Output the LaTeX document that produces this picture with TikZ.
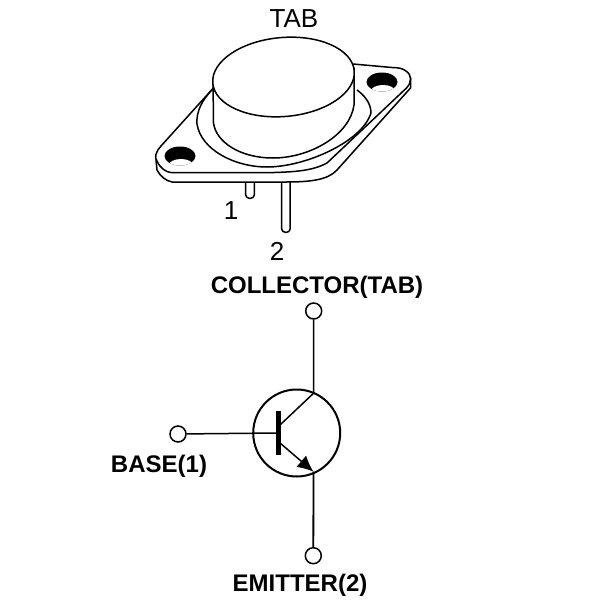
\documentclass[tikz,border=0pt]{standalone}
\usepackage{fontspec}
\setmainfont{Liberation Sans}
\usetikzlibrary{arrows.meta}
\tikzset{
	case/.style={line width=1.5pt, line join=round, fill=white},
	terminal/.style={circle, draw, line width=1.5pt, fill=white, minimum size=16pt, inner sep=0pt},
	wire/.style={line width=1.5pt},
	pinlabel/.style={font=\fontsize{26}{30}\selectfont, inner sep=0pt},
	termlabel/.style={font=\fontsize{24}{28}\selectfont\bfseries, inner sep=0pt}
}

\begin{document}
\begin{tikzpicture}[x=1pt, y=-1pt]
	\useasboundingbox[fill=white] (0,0) rectangle (600,600);

	% pins
	\draw[case] (245.7,180) -- (245.7,195) arc[start angle=180, end angle=360, x radius=4.3, y radius=-3.5] -- (254.3,180);
	\draw[case] (281.7,180) -- (281.7,229) arc[start angle=180, end angle=360, x radius=4.2, y radius=-3.5] -- (290,180);

	% flange
	\draw[case] (156,160) -- (157,170) .. controls (160,176) and (166,181) .. (172,182) -- (286,182)
		.. controls (310,182) and (328,180) .. (337,170) -- (410.5,88) -- (410.5,78) -- (400,70) -- (300,70) -- cycle;
	\draw[case] (212.5,89) -- (161,146) .. controls (156,151) and (154,158) .. (157,161)
		.. controls (160,168) and (166,172.5) .. (172,172.7) -- (267,172.7)
		.. controls (295,172) and (312,171) .. (327,163) -- (406.5,88)
		.. controls (412,82) and (412,75) .. (406,71) .. controls (402,68) and (398,67.7) .. (392,67.5) -- (353,64) -- cycle;
	\draw[case] (212,90) .. controls (202,100) and (196,112) .. (197,124)
		.. controls (201,150) and (235,167) .. (267,167)
		.. controls (305,167) and (362,142) .. (371,113)
		.. controls (371,103) and (364,95) .. (357,90);

	% holes
	\foreach \hx/\hy in {180/156, 382/82} {
		\fill (\hx,\hy) ellipse[x radius=15.5, y radius=9.5];
		\begin{scope}
			\clip (\hx,\hy) ellipse[x radius=15.5, y radius=9.5];
			\fill[white] (\hx+1,\hy+9) ellipse[x radius=12, y radius=6];
		\end{scope}
	}

	% can
	\draw[case] (213,80) -- (213.5,123) .. controls (216,142) and (240,158) .. (273,158)
		.. controls (310,158) and (350,135) .. (354,105) -- (354,68) -- cycle;
	\begin{scope}[shift={(283.5,77)}, rotate=5]
		\draw[case] (0,0) ellipse[x radius=71, y radius=39.5];
	\end{scope}

	\node[pinlabel] (tab) at (294,19) {TAB};
	\node[pinlabel] (pinone) at (231,211) {1};
	\node[pinlabel] (pintwo) at (277,251) {2};

	% transistor symbol
	\node[circle, draw, line width=2pt, minimum size=87pt, inner sep=0pt] (envelope) at (296.7,433) {};
	\node[draw, fill=black, minimum width=4pt, minimum height=43pt, inner sep=0pt] (bar) at (278,433) {};
	\node[terminal] (collector) at (313.7,311) {};
	\node[terminal] (base) at (178,434) {};
	\node[terminal] (emitter) at (313.3,555.7) {};
	\coordinate (ctop) at (313.5,393.3);
	\coordinate (cin) at (280,425);
	\coordinate (ein) at (280,443);
	\coordinate (ebot) at (313.5,471.7);

	\draw[wire] (collector) -- (ctop);
	\draw[wire] (cin) -- (ctop);
	\draw[wire] (base) -- (bar);
	\draw[wire, -{Latex[length=16pt, width=15pt]}] (ein) -- (ebot);
	\draw[line width=1.8pt] (ebot) -- (emitter);

	\node[termlabel] (collectorlabel) at (317,287.5) {COLLECTOR(TAB)};
	\node[termlabel] (baselabel) at (159,466.5) {BASE(1)};
	\node[termlabel] (emitterlabel) at (300,585.5) {EMITTER(2)};
\end{tikzpicture}
\end{document}
